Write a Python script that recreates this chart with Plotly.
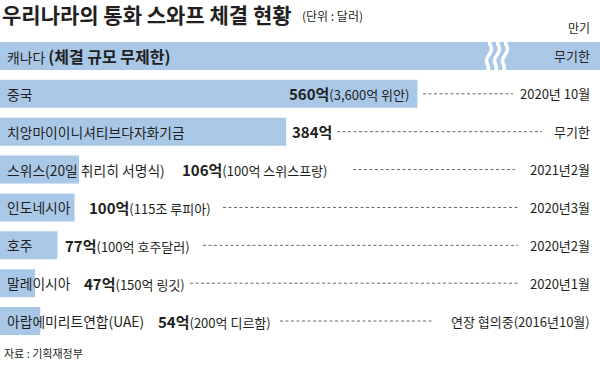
import plotly.graph_objects as go

# ---------------- data ----------------
countries = ["캐나다", "중국", "치앙마이이니셔티브다자화기금", "스위스(20일 취리히 서명식)",
             "인도네시아", "호주", "말레이시아", "아랍에미리트연합(UAE)"]
country_notes = ["<b><span style='font-size:16px'>(체결 규모 무제한)</span></b>", "", "", "", "", "", "", ""]
amounts = [None, 560, 384, 106, 100, 77, 47, 54]          # 억 달러 (None = 무제한)
local_amounts = ["", "(3,600억 위안)", "", "(100억 스위스프랑)", "(115조 루피아)",
                 "(100억 호주달러)", "(150억 링깃)", "(200억 디르함)"]
maturities = ["무기한", "2020년 10월", "무기한", "2021년2월", "2020년3월",
              "2020년2월", "2020년1월", "연장 협의중(2016년10월)"]

# ---------------- layout constants (pixels) ----------------
W, H = 600, 368
M_T, M_B = 37, 28
XMAX = 805
BAR = "#a9c8e8"
TXT = "#231f20"
FONT = "Noto Sans CJK KR"
value_x = [None, 411, 290, 180, 87, 63, 82, 156]
value_anchor = [None, "right", "left", "left", "left", "left", "left", "left"]
dash_x0 = [None, 423, 337, 353, 223, 203, 190, 280]
dash_x1 = [None, 513, 542, 515, 518, 518, 518, 432]

plot_h = H - M_T - M_B
def px(x):
    return x / W
def py(y):
    return (H - M_B - y) / plot_h

bar_len = [XMAX if a is None else a for a in amounts]

fig = go.Figure(go.Bar(
    x=bar_len, y=countries, orientation="h",
    marker=dict(color=BAR, line=dict(width=0)),
    width=0.74, hoverinfo="skip",
))

ann = []
shapes = []
for i, c in enumerate(countries):
    lab = c + ((" " + country_notes[i]) if country_notes[i] else "")
    ann.append(dict(x=px(5), y=c, xref="paper", yref="y", text=lab, showarrow=False,
                    xanchor="left", yanchor="middle",
                    font=dict(size=13.8, color=TXT, family=FONT)))
    if amounts[i] is not None:
        vt = f"<b><span style='font-size:15px'>{amounts[i]}억</span></b>{local_amounts[i]}"
        ann.append(dict(x=px(value_x[i]), y=c, xref="paper", yref="y", text=vt, showarrow=False,
                        xanchor=value_anchor[i], yanchor="middle",
                        font=dict(size=13, color=TXT, family=FONT)))
        shapes.append(dict(type="line", xref="paper", yref="y", x0=px(dash_x0[i]), x1=px(dash_x1[i]),
                           y0=c, y1=c, line=dict(color="#666666", width=1, dash="3px,2.5px")))
    ann.append(dict(x=px(592), y=c, xref="paper", yref="y", text=maturities[i], showarrow=False,
                    xanchor="right", yanchor="middle",
                    font=dict(size=13, color=TXT, family=FONT)))

# wavy break on Canada bar (white S-shaped strokes leaning right)
def wave(xc, ytop, ybot, amp, lean):
    h = ybot - ytop
    xb, xt = xc - lean, xc + lean
    xm = xc
    return (f"M {px(xb)},{py(ybot)} "
            f"C {px(xb+amp)},{py(ybot-h*0.25)} {px(xm-amp)},{py(ybot-h*0.25)} {px(xm)},{py(ybot-h*0.5)} "
            f"C {px(xm+amp)},{py(ybot-h*0.75)} {px(xt-amp)},{py(ybot-h*0.75)} {px(xt)},{py(ytop)}")

for x in [489, 497, 505]:
    shapes.append(dict(type="path", xref="paper", yref="paper", path=wave(x, 36, 74, 7, 3),
                       line=dict(color="white", width=3.5)))

# titles
ann.append(dict(x=0, y=py(14), xref="paper", yref="paper", xanchor="left", yanchor="middle",
                text="<b>우리나라의 통화 스와프 체결 현황</b>", showarrow=False,
                font=dict(size=21, color=TXT, family=FONT)))
ann.append(dict(x=px(300), y=py(16), xref="paper", yref="paper", xanchor="left", yanchor="middle",
                text="(단위 : 달러)", showarrow=False, font=dict(size=12, color=TXT, family=FONT)))
ann.append(dict(x=px(592), y=py(27), xref="paper", yref="paper", xanchor="right", yanchor="middle",
                text="만기", showarrow=False, font=dict(size=12, color=TXT, family=FONT)))
ann.append(dict(x=px(2), y=py(353), xref="paper", yref="paper", xanchor="left", yanchor="middle",
                text="자료 : 기획재정부", showarrow=False, font=dict(size=11, color=TXT, family=FONT)))

fig.update_layout(
    width=W, height=H, margin=dict(l=0, r=0, t=M_T, b=M_B),
    paper_bgcolor="white", plot_bgcolor="white", showlegend=False,
    xaxis=dict(range=[0, XMAX], visible=False, fixedrange=True),
    yaxis=dict(autorange="reversed", visible=False, fixedrange=True),
    annotations=ann, shapes=shapes, bargap=0.26,
)
fig.write_html("out.html", config={"displayModeBar": False},
               post_script="document.body.style.margin='0';")
